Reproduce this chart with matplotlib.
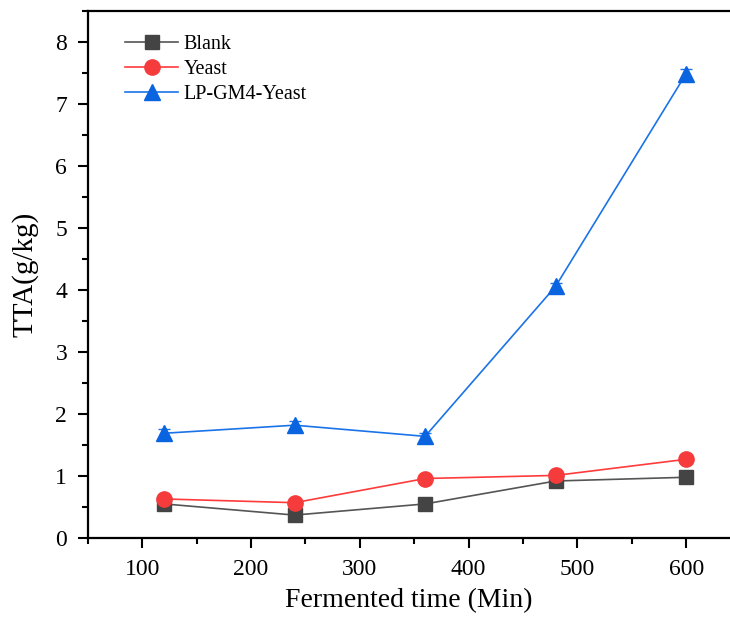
import matplotlib
matplotlib.use("Agg")
import matplotlib.pyplot as plt
from matplotlib.ticker import MultipleLocator
from matplotlib.lines import Line2D

time = [120, 240, 360, 480, 600]
blank = [0.55, 0.37, 0.55, 0.92, 0.98]
yeast = [0.63, 0.57, 0.96, 1.01, 1.27]
lp = [1.69, 1.82, 1.64, 4.06, 7.49]
blank_err = [0.04, 0.03, 0.04, 0.04, 0.04]
yeast_err = [0.06, 0.05, 0.06, 0.05, 0.05]
lp_err = [0.07, 0.06, 0.06, 0.06, 0.07]
labels = ['Blank', 'Yeast', 'LP-GM4-Yeast']

plt.rcParams['font.family'] = ['Liberation Serif', 'DejaVu Serif']

fig = plt.figure(figsize=(7.30, 6.17), dpi=100)
ax = fig.add_axes([0.1205, 0.128, 0.879, 0.854])

styles = [
    dict(color='#555555', marker='s', ms=10, mfc='#444444', mec='#444444'),
    dict(color='#ff3b3b', marker='o', ms=11, mfc='#f53b3b', mec='#f53b3b'),
    dict(color='#1a73e8', marker='^', ms=11, mfc='#0a64e0', mec='#0a64e0'),
]
series = [(blank, blank_err), (yeast, yeast_err), (lp, lp_err)]
handles = []
for (vals, err), st, lab in zip(series, styles, labels):
    ax.errorbar(time, vals, yerr=err, lw=1.2, capsize=4, elinewidth=1, **st)
    handles.append(Line2D([], [], lw=1.2, **st))

ax.set_xlim(50, 640)
ax.set_ylim(0, 8.5)
ax.xaxis.set_major_locator(MultipleLocator(100))
ax.xaxis.set_minor_locator(MultipleLocator(50))
ax.yaxis.set_major_locator(MultipleLocator(1))
ax.yaxis.set_minor_locator(MultipleLocator(0.5))
ax.tick_params(which='both', direction='out', width=1.5, labelsize=17)
ax.tick_params(which='major', length=7, pad=8)
ax.tick_params(which='minor', length=4)
for s in ax.spines.values():
    s.set_linewidth(1.6)
ax.spines['right'].set_visible(False)

ax.set_xlabel('Fermented time (Min)', fontsize=20, labelpad=6)
ax.set_ylabel('TTA(g/kg)', fontsize=21, labelpad=12)

ax.legend(handles, labels, loc='upper left', bbox_to_anchor=(0.03, 0.99), frameon=False, fontsize=14.5,
          handlelength=2.6, handletextpad=0.3, labelspacing=0.3)

fig.savefig('out.png', dpi=100)
